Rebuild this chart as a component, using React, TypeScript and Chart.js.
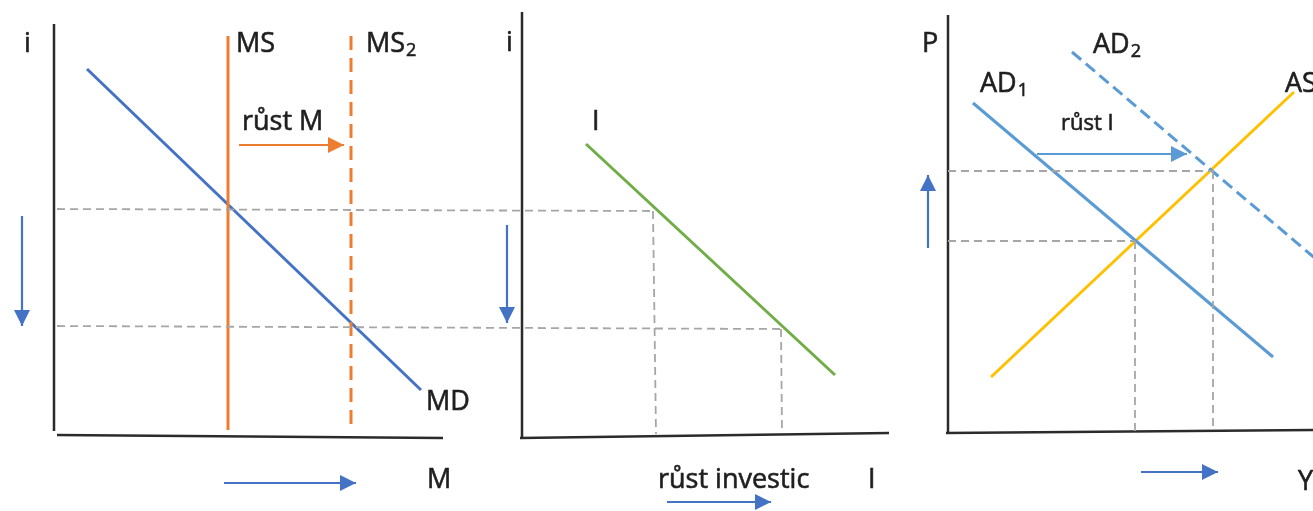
import React, { useEffect, useRef } from 'react';
import { Chart, registerables } from 'chart.js';

Chart.register(...registerables);

type P = { x: number; y: number };

// ---- Panel 1: money market (i vs M) ----
const axis1Y: P[] = [{ x: 54, y: 24 }, { x: 54, y: 431 }];
const axis1X: P[] = [{ x: 57, y: 435 }, { x: 443, y: 438 }];
const msCurve: P[] = [{ x: 228, y: 36 }, { x: 228, y: 430 }];
const ms2Curve: P[] = [{ x: 351, y: 36 }, { x: 351, y: 425 }];
const mdCurve: P[] = [{ x: 87, y: 69 }, { x: 421, y: 390 }];
const rateHighGuide: P[] = [{ x: 57, y: 209 }, { x: 653, y: 211 }];
const rateLowGuide: P[] = [{ x: 57, y: 326 }, { x: 781, y: 329 }];
const arrowRustM: P[] = [{ x: 239, y: 145 }, { x: 344, y: 145 }];
const arrowRate1: P[] = [{ x: 22, y: 216 }, { x: 22, y: 326 }];
const arrowM: P[] = [{ x: 224, y: 483 }, { x: 356, y: 483 }];

// ---- Panel 2: investment (i vs I) ----
const axis2Y: P[] = [{ x: 522, y: 12 }, { x: 522, y: 438 }];
const axis2X: P[] = [{ x: 520, y: 438 }, { x: 889, y: 433 }];
const investCurve: P[] = [{ x: 586, y: 144 }, { x: 835, y: 375 }];
const investGuide1: P[] = [{ x: 653, y: 211 }, { x: 656, y: 434 }];
const investGuide2: P[] = [{ x: 781, y: 329 }, { x: 782, y: 433 }];
const arrowRate2: P[] = [{ x: 507, y: 225 }, { x: 507, y: 323 }];
const arrowInvest: P[] = [{ x: 667, y: 502 }, { x: 771, y: 502 }];

// ---- Panel 3: AD-AS (P vs Y) ----
const axis3Y: P[] = [{ x: 948, y: 15 }, { x: 948, y: 434 }];
const axis3X: P[] = [{ x: 946, y: 433 }, { x: 1313, y: 430 }];
const ad1Curve: P[] = [{ x: 973, y: 103 }, { x: 1273, y: 357 }];
const ad2Curve: P[] = [{ x: 1072, y: 52 }, { x: 1330, y: 271 }];
const asCurve: P[] = [{ x: 991, y: 377 }, { x: 1294, y: 92 }];
const priceHighGuide: P[] = [{ x: 948, y: 171 }, { x: 1213, y: 171 }];
const priceLowGuide: P[] = [{ x: 948, y: 241 }, { x: 1135, y: 241 }];
const outputGuide1: P[] = [{ x: 1135, y: 241 }, { x: 1135, y: 433 }];
const outputGuide2: P[] = [{ x: 1213, y: 171 }, { x: 1213, y: 431 }];
const arrowRustI: P[] = [{ x: 1037, y: 154 }, { x: 1187, y: 154 }];
const arrowPrice: P[] = [{ x: 928, y: 248 }, { x: 928, y: 175 }];
const arrowY: P[] = [{ x: 1141, y: 472 }, { x: 1218, y: 472 }];

// ---- Text labels (text, subscript, anchor) ----
const labelTexts: string[] = ['i', 'MS', 'MS', 'růst M', 'MD', 'M', 'i', 'I', 'růst investic', 'I', 'P', 'AD', 'AD', 'AS', 'růst I', 'Y'];
const labelSubs: string[] = ['', '', '2', '', '', '', '', '', '', '', '', '1', '2', '', '', ''];
const labelAnchors: P[] = [
  { x: 24, y: 52 }, { x: 236, y: 52 }, { x: 366, y: 52 }, { x: 242, y: 130 },
  { x: 426, y: 410 }, { x: 427, y: 488 }, { x: 506, y: 51 }, { x: 592, y: 130 },
  { x: 658, y: 488 }, { x: 868, y: 488 }, { x: 922, y: 52 }, { x: 980, y: 92 },
  { x: 1093, y: 53 }, { x: 1285, y: 92 }, { x: 1061, y: 130 }, { x: 1298, y: 490 },
];
const labelSmall: boolean[] = [false, false, false, false, false, false, false, false, false, false, false, false, false, false, true, false];

const AXIS = '#2b2b2b';
const GUIDE = '#a6a6a6';
const BLUE = '#4472C4';
const LIGHTBLUE = '#5B9BD5';
const ORANGE = '#ED7D31';
const GREEN = '#70AD47';
const GOLD = '#FFC000';
const TEXT = '#1f1f1f';
const FONT = '"Open Sans", "Liberation Sans", sans-serif';

export default function App() {
  const ref = useRef<HTMLCanvasElement>(null);

  useEffect(() => {
    if (!ref.current) return;

    const line = (data: P[], color: string, width: number, dash: number[] = []) => ({
      data,
      showLine: true,
      borderColor: color,
      backgroundColor: color,
      borderWidth: width,
      borderDash: dash,
      pointRadius: 0,
      fill: false,
      tension: 0,
    });

    const guideDash = [8, 5];
    const datasets = [
      line(rateHighGuide, GUIDE, 1.8, guideDash),
      line(rateLowGuide, GUIDE, 1.8, guideDash),
      line(investGuide1, GUIDE, 1.8, guideDash),
      line(investGuide2, GUIDE, 1.8, guideDash),
      line(priceHighGuide, GUIDE, 1.8, guideDash),
      line(priceLowGuide, GUIDE, 1.8, guideDash),
      line(outputGuide1, GUIDE, 1.8, guideDash),
      line(outputGuide2, GUIDE, 1.8, guideDash),
      line(axis1Y, AXIS, 2.5),
      line(axis1X, AXIS, 2.5),
      line(axis2Y, AXIS, 2.5),
      line(axis2X, AXIS, 2.5),
      line(axis3Y, AXIS, 2.5),
      line(axis3X, AXIS, 2.5),
      line(msCurve, ORANGE, 3),
      line(ms2Curve, ORANGE, 3, [14, 8]),
      line(mdCurve, BLUE, 3),
      line(investCurve, GREEN, 3),
      line(ad1Curve, LIGHTBLUE, 3),
      line(ad2Curve, LIGHTBLUE, 3, [12, 6]),
      line(asCurve, GOLD, 3),
      line(arrowRustM, ORANGE, 2.2),
      line(arrowRate1, BLUE, 2.2),
      line(arrowM, BLUE, 2.2),
      line(arrowRate2, BLUE, 2.2),
      line(arrowInvest, BLUE, 2.2),
      line(arrowRustI, LIGHTBLUE, 2.2),
      line(arrowPrice, BLUE, 2.2),
      line(arrowY, BLUE, 2.2),
    ];

    const arrowSets: { pts: P[]; color: string }[] = [
      { pts: arrowRustM, color: ORANGE },
      { pts: arrowRate1, color: BLUE },
      { pts: arrowM, color: BLUE },
      { pts: arrowRate2, color: BLUE },
      { pts: arrowInvest, color: BLUE },
      { pts: arrowRustI, color: LIGHTBLUE },
      { pts: arrowPrice, color: BLUE },
      { pts: arrowY, color: BLUE },
    ];

    const overlay = {
      id: 'diagramOverlay',
      afterDatasetsDraw(chart: any) {
        const { ctx, scales } = chart;
        const sx = scales.x;
        const sy = scales.y;
        ctx.save();
        // arrowheads
        arrowSets.forEach(({ pts, color }) => {
          const a = pts[0];
          const b = pts[pts.length - 1];
          const ax = sx.getPixelForValue(a.x);
          const ay = sy.getPixelForValue(a.y);
          const bx = sx.getPixelForValue(b.x);
          const by = sy.getPixelForValue(b.y);
          const ang = Math.atan2(by - ay, bx - ax);
          const len = 16;
          const half = 8;
          ctx.fillStyle = color;
          ctx.beginPath();
          ctx.moveTo(bx, by);
          ctx.lineTo(bx - len * Math.cos(ang) + half * Math.sin(ang), by - len * Math.sin(ang) - half * Math.cos(ang));
          ctx.lineTo(bx - len * Math.cos(ang) - half * Math.sin(ang), by - len * Math.sin(ang) + half * Math.cos(ang));
          ctx.closePath();
          ctx.fill();
        });
        // labels
        ctx.fillStyle = TEXT;
        ctx.strokeStyle = TEXT;
        ctx.lineWidth = 0.6;
        ctx.textBaseline = 'alphabetic';
        ctx.textAlign = 'left';
        labelTexts.forEach((t, i) => {
          const p = labelAnchors[i];
          const px = sx.getPixelForValue(p.x);
          const py = sy.getPixelForValue(p.y);
          const size = labelSmall[i] ? 22 : 27;
          ctx.font = `${size}px ${FONT}`;
          ctx.fillText(t, px, py);
          ctx.strokeText(t, px, py);
          const sub = labelSubs[i];
          if (sub) {
            const w = ctx.measureText(t).width;
            ctx.font = `${Math.round(size * 0.65)}px ${FONT}`;
            ctx.fillText(sub, px + w + 1, py + 4);
            ctx.strokeText(sub, px + w + 1, py + 4);
          }
        });
        ctx.restore();
      },
    };

    const chart = new Chart(ref.current, {
      type: 'scatter',
      data: { datasets: datasets as any },
      options: {
        animation: false,
        responsive: false,
        maintainAspectRatio: false,
        layout: { padding: 0 },
        events: [],
        scales: {
          x: { type: 'linear', min: 0, max: 1313, display: false },
          y: { type: 'linear', min: 0, max: 511, reverse: true, display: false },
        },
        plugins: {
          legend: { display: false },
          tooltip: { enabled: false },
        },
      },
      plugins: [overlay],
    });

    return () => chart.destroy();
  }, []);

  return (
    <div style={{ position: 'absolute', left: 0, top: 0, width: 1313, height: 511, background: '#fff' }}>
      <canvas ref={ref} width={1313} height={511} style={{ display: 'block' }} />
    </div>
  );
}
